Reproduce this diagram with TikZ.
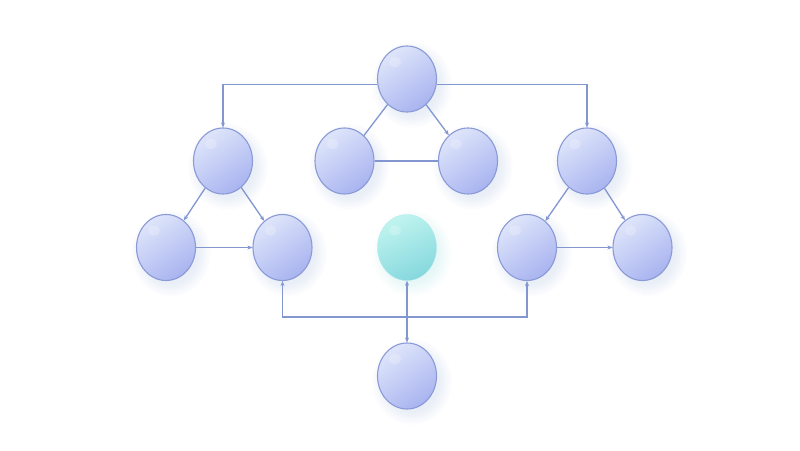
\documentclass[tikz,border=0pt]{standalone}
\usetikzlibrary{shapes.geometric,arrows.meta}
\definecolor{nodetop}{HTML}{DEE5FA}
\definecolor{nodebot}{HTML}{A9B4F0}
\definecolor{nodeline}{HTML}{8A9AD6}
\definecolor{edgecol}{HTML}{8296D0}
\definecolor{tealtop}{HTML}{C0F4EF}
\definecolor{tealbot}{HTML}{86D8DE}
\definecolor{glowblue}{HTML}{9AA8F2}
\definecolor{glowteal}{HTML}{8FE3E6}
\tikzset{
  bubble/.style={ellipse, minimum width=59pt, minimum height=66pt, inner sep=0pt,
    draw=nodeline, line width=1.1pt, top color=nodetop, bottom color=nodebot, shading angle=35},
  tealbubble/.style={ellipse, minimum width=59pt, minimum height=66pt, inner sep=0pt,
    draw=tealtop!60!tealbot, line width=0.3pt, top color=tealtop, bottom color=tealbot, shading angle=25},
  conn/.style={draw=edgecol, line width=1.3pt},
  arr/.style={conn, -{Stealth[length=5pt,width=4pt]}},
}
\newcommand{\myglow}[3]{%
  \foreach \r in {0,...,7}{\fill[#3, opacity=0.025] (#1+5,#2+6) ellipse ({27+\r*1.8} and {30+\r*1.8});}}
\newcommand{\myshine}[2]{%
  \fill[white, opacity=0.22] (#1-12,#2-17) ellipse (6 and 5);}
\begin{document}
\begin{tikzpicture}[x=1pt,y=-1pt]
\fill[white] (0,0) rectangle (800,450);
\useasboundingbox (0,0) rectangle (800,450);
% glows
\myglow{407}{79}{glowblue}
\myglow{223}{161}{glowblue}
\myglow{344.5}{161}{glowblue}
\myglow{468}{161}{glowblue}
\myglow{587}{161}{glowblue}
\myglow{166}{247.5}{glowblue}
\myglow{282.5}{247.5}{glowblue}
\myglow{407}{247.5}{glowteal}
\myglow{527}{247.5}{glowblue}
\myglow{642.5}{247.5}{glowblue}
\myglow{407}{376}{glowblue}
% nodes
\node[bubble] (T) at (407,79) {};
\node[bubble] (L) at (223,161) {};
\node[bubble] (M1) at (344.5,161) {};
\node[bubble] (M2) at (468,161) {};
\node[bubble] (R) at (587,161) {};
\node[bubble] (LL) at (166,247.5) {};
\node[bubble] (LR) at (282.5,247.5) {};
\node[tealbubble] (C) at (407,247.5) {};
\node[bubble] (RL) at (527,247.5) {};
\node[bubble] (RR) at (642.5,247.5) {};
\node[bubble] (B) at (407,376) {};
% highlights
\myshine{407}{79}
\myshine{223}{161}
\myshine{344.5}{161}
\myshine{468}{161}
\myshine{587}{161}
\myshine{166}{247.5}
\myshine{282.5}{247.5}
\myshine{407}{247.5}
\myshine{527}{247.5}
\myshine{642.5}{247.5}
\myshine{407}{376}
% connectors
\draw[arr] (T.191) -| (L.north);
\draw[arr] (T.349) -| (R.north);
\draw[conn] (T) -- (M1);
\draw[arr] (T) -- (M2);
\draw[conn] (M1) -- (M2);
\draw[arr] (L) -- (LL);
\draw[arr] (L) -- (LR);
\draw[arr] (LL) -- (LR);
\draw[arr] (R) -- (RL);
\draw[arr] (R) -- (RR);
\draw[arr] (RL) -- (RR);
\coordinate (J) at (407,317);
\draw[arr] (J) -| (LR.south);
\draw[arr] (J) -| (RL.south);
\draw[arr] (J) -- (C.south);
\draw[arr] (J) -- (B.north);
\end{tikzpicture}
\end{document}
